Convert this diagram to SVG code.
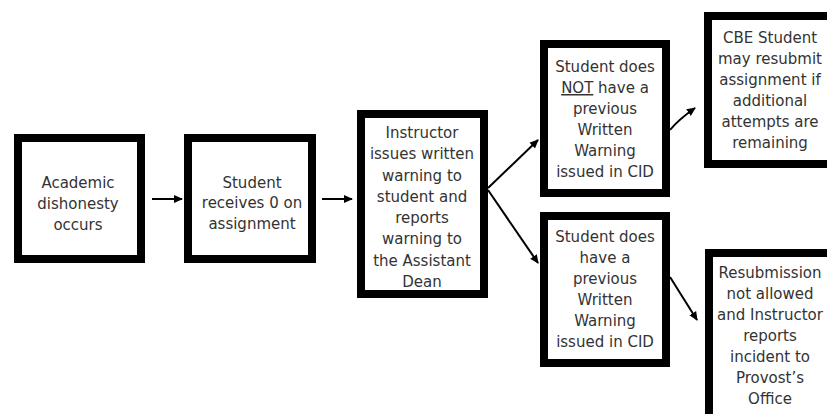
<svg xmlns="http://www.w3.org/2000/svg" width="827" height="414" viewBox="0 0 827 414">
<style>
.box{fill:#fff;stroke:#000;stroke-width:8}
.t{font-family:"DejaVu Sans",sans-serif;font-size:15px;fill:#333;text-anchor:middle}
.c{fill:none;stroke:#000;stroke-width:2}
</style>
<defs>
<marker id="ah" markerWidth="10" markerHeight="10" refX="8" refY="5" orient="auto" markerUnits="userSpaceOnUse">
<path d="M0,1 L9,5 L0,9 Z" fill="#000"/>
</marker>
</defs>
<rect width="827" height="414" fill="#fff"/>
<g id="n1">
<rect class="box" x="18" y="138" width="123" height="121"/>
<text class="t"><tspan x="78" y="188">Academic</tspan><tspan x="78" y="209">dishonesty</tspan><tspan x="78" y="230">occurs</tspan></text>
</g>
<g id="n2">
<rect class="box" x="188" y="138" width="124" height="121"/>
<text class="t"><tspan x="252" y="188">Student</tspan><tspan x="252" y="208">receives 0 on</tspan><tspan x="252" y="229">assignment</tspan></text>
</g>
<g id="n3">
<rect class="box" x="361" y="114" width="123" height="180"/>
<text class="t"><tspan x="422" y="138">Instructor</tspan><tspan x="422" y="159">issues written</tspan><tspan x="422" y="181">warning to</tspan><tspan x="422" y="202">student and</tspan><tspan x="422" y="223">reports</tspan><tspan x="422" y="244">warning to</tspan><tspan x="422" y="266">the Assistant</tspan><tspan x="422" y="287">Dean</tspan></text>
</g>
<g id="n4">
<rect class="box" x="544" y="44" width="122" height="149"/>
<text class="t"><tspan x="605" y="72">Student does</tspan><tspan x="605" y="93"><tspan text-decoration="underline">NOT</tspan> have a</tspan><tspan x="605" y="114">previous</tspan><tspan x="605" y="135">Written</tspan><tspan x="605" y="156">Warning</tspan><tspan x="605" y="177">issued in CID</tspan></text>
</g>
<g id="n5">
<rect class="box" x="708" y="16" width="124" height="148"/>
<text class="t"><tspan x="770" y="43">CBE Student</tspan><tspan x="770" y="64">may resubmit</tspan><tspan x="770" y="85">assignment if</tspan><tspan x="770" y="106">additional</tspan><tspan x="770" y="127">attempts are</tspan><tspan x="770" y="148">remaining</tspan></text>
</g>
<g id="n6">
<rect class="box" x="544" y="216" width="122" height="147"/>
<text class="t"><tspan x="605" y="242">Student does</tspan><tspan x="605" y="263">have a</tspan><tspan x="605" y="284">previous</tspan><tspan x="605" y="305">Written</tspan><tspan x="605" y="326">Warning</tspan><tspan x="605" y="347">issued in CID</tspan></text>
</g>
<g id="n7">
<rect class="box" x="709" y="253" width="124" height="180"/>
<text class="t"><tspan x="770" y="278">Resubmission</tspan><tspan x="770" y="299">not allowed</tspan><tspan x="770" y="320">and Instructor</tspan><tspan x="770" y="341">reports</tspan><tspan x="770" y="362">incident to</tspan><tspan x="770" y="383">Provost’s</tspan><tspan x="770" y="404">Office</tspan></text>
</g>
<g id="connectors">
<path class="c" d="M152,199 L182,199" marker-end="url(#ah)"/>
<path class="c" d="M322,199 L352,199" marker-end="url(#ah)"/>
<path class="c" d="M488,188 L538,140" marker-end="url(#ah)"/>
<path class="c" d="M488,190 L538,263" marker-end="url(#ah)"/>
<path class="c" d="M670,130 Q678,120 695,108" marker-end="url(#ah)"/>
<path class="c" d="M670,277 L697,320" marker-end="url(#ah)"/>
</g>
</svg>
